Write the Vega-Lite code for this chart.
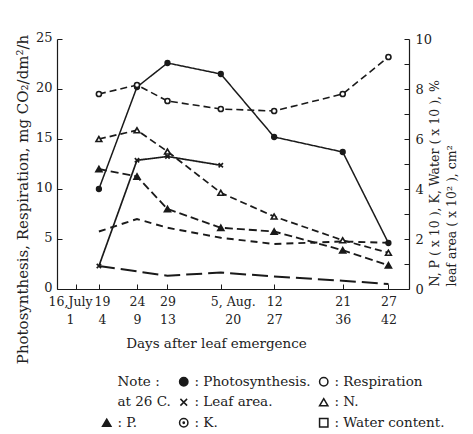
{
  "$schema": "https://vega.github.io/schema/vega-lite/v6.json",
  "width": 352,
  "height": 250,
  "autosize": {"type": "none"},
  "padding": {"left": 57, "top": 39, "right": 64, "bottom": 145},
  "background": "white",
  "config": {
    "font": "DejaVu Serif",
    "view": {"stroke": null},
    "axis": {
      "grid": false,
      "domainColor": "#1a1a1a",
      "domainWidth": 1.2,
      "tickColor": "#1a1a1a",
      "tickWidth": 1,
      "tickSize": -5,
      "labelColor": "#222",
      "titleColor": "#222",
      "labelFont": "DejaVu Serif",
      "titleFont": "DejaVu Serif",
      "titleFontWeight": "normal",
      "labelFontSize": 13
    },
    "legend": {
      "orient": "none",
      "legendX": 43,
      "legendY": 336,
      "columns": 3,
      "gridAlign": "each",
      "columnPadding": 5,
      "rowPadding": 5.5,
      "symbolSize": 70,
      "labelFont": "DejaVu Serif",
      "labelFontSize": 13.5,
      "labelColor": "#222",
      "labelOffset": 4
    }
  },
  "datasets": {
    "curves": [
      {"series": "Photosynthesis", "day": 4, "value": 10.0},
      {"series": "Photosynthesis", "day": 9, "value": 20.2},
      {"series": "Photosynthesis", "day": 13, "value": 22.6},
      {"series": "Photosynthesis", "day": 20, "value": 21.5},
      {"series": "Photosynthesis", "day": 27, "value": 15.2},
      {"series": "Photosynthesis", "day": 36, "value": 13.7},
      {"series": "Photosynthesis", "day": 42, "value": 4.6},
      {"series": "Respiration", "day": 4, "value": 19.5},
      {"series": "Respiration", "day": 9, "value": 20.4},
      {"series": "Respiration", "day": 13, "value": 18.8},
      {"series": "Respiration", "day": 20, "value": 18.0},
      {"series": "Respiration", "day": 27, "value": 17.8},
      {"series": "Respiration", "day": 36, "value": 19.5},
      {"series": "Respiration", "day": 42, "value": 23.2},
      {"series": "N", "day": 4, "value": 6.0},
      {"series": "N", "day": 9, "value": 6.35},
      {"series": "N", "day": 13, "value": 5.5},
      {"series": "N", "day": 20, "value": 3.85},
      {"series": "N", "day": 27, "value": 2.9},
      {"series": "N", "day": 36, "value": 1.95},
      {"series": "N", "day": 42, "value": 1.45},
      {"series": "P", "day": 4, "value": 4.8},
      {"series": "P", "day": 9, "value": 4.5},
      {"series": "P", "day": 13, "value": 3.2},
      {"series": "P", "day": 20, "value": 2.45},
      {"series": "P", "day": 27, "value": 2.3},
      {"series": "P", "day": 36, "value": 1.55},
      {"series": "P", "day": 42, "value": 0.95},
      {"series": "Leaf area", "day": 4, "value": 0.92},
      {"series": "Leaf area", "day": 9, "value": 5.15},
      {"series": "Leaf area", "day": 13, "value": 5.3},
      {"series": "Leaf area", "day": 20, "value": 4.95},
      {"series": "K", "day": 4, "value": 2.3},
      {"series": "K", "day": 9, "value": 2.8},
      {"series": "K", "day": 13, "value": 2.45},
      {"series": "K", "day": 20, "value": 2.05},
      {"series": "K", "day": 27, "value": 1.8},
      {"series": "K", "day": 36, "value": 1.9},
      {"series": "K", "day": 42, "value": 1.85},
      {"series": "Water content", "day": 4, "value": 0.92},
      {"series": "Water content", "day": 13, "value": 0.53},
      {"series": "Water content", "day": 20, "value": 0.66},
      {"series": "Water content", "day": 27, "value": 0.5},
      {"series": "Water content", "day": 36, "value": 0.33},
      {"series": "Water content", "day": 42, "value": 0.2}
    ]
  },
  "data": {"name": "curves"},
  "encoding": {
    "x": {
      "field": "day",
      "type": "quantitative",
      "scale": {"domain": [-1.5, 44.7], "nice": false, "zero": false},
      "axis": {
        "values": [1, 4, 9, 13, 20, 27, 36, 42],
        "labelExpr": "[datum.value == 1 ? '16,July' : datum.value == 4 ? '19' : datum.value == 9 ? '24' : datum.value == 13 ? '29' : datum.value == 20 ? '5, Aug.' : datum.value == 27 ? '12' : datum.value == 36 ? '21' : '27', '\u00a0\u00a0' + datum.label]",
        "labelOffset": {"condition": [{"test": "datum.value == 20", "value": 12}, {"test": "datum.value == 1", "value": -6}, {"test": "datum.value == 4", "value": 3}], "value": 0},
        "labelFontSize": 12.5,
        "labelPadding": 11.5,
        "labelLineHeight": 18,
        "labelFlush": false,
        "labelOverlap": false,
        "title": "Days after leaf emergence",
        "titleFontSize": 13.5,
        "titleX": 159,
        "titleY": 54,
        "titleAlign": "center",
        "titleBaseline": "middle"
      }
    }
  },
  "layer": [
    {
      "transform": [{"filter": {"field": "series", "oneOf": ["Photosynthesis", "Respiration"]}}],
      "encoding": {
        "y": {
          "field": "value",
          "type": "quantitative",
          "scale": {"domain": [0, 25], "nice": false},
          "axis": {
            "orient": "left",
            "values": [0, 5, 10, 15, 20, 25],
            "labelPadding": 10,
            "labelOffset": -2,
            "title": "Photosynthesis, Respiration, mg CO₂/dm²/h",
            "titleFontSize": 15,
            "titleAngle": -90,
            "titleX": -35,
            "titleY": 160,
            "titleAlign": "center",
            "titleBaseline": "middle"
          }
        }
      },
      "layer": [
        {
          "mark": {"type": "line", "color": "#1a1a1a"},
          "encoding": {
            "strokeDash": {
              "field": "series", "type": "nominal", "legend": null,
              "scale": {
                "domain": ["Photosynthesis", "Respiration", "Leaf area", "N", "P", "K", "Water content"],
                "range": [[1, 0], [7, 4], [1, 0], [7, 4], [8, 4], [7, 5], [16, 6]]
              }
            },
            "strokeWidth": {
              "field": "series", "type": "nominal", "legend": null,
              "scale": {
                "domain": ["Photosynthesis", "Respiration", "Leaf area", "N", "P", "K", "Water content"],
                "range": [1.5, 2, 1.3, 2, 2, 2, 2]
              }
            }
          }
        },
        {
          "mark": {"type": "point", "filled": true, "stroke": "#1a1a1a", "strokeWidth": 1.6, "opacity": 1},
          "encoding": {
            "shape": {
              "field": "series", "type": "nominal",
              "scale": {
                "domain": ["Note", "at 26 C.", "P", "Photosynthesis", "Leaf area", "K", "Respiration", "N", "Water content"],
                "range": ["M0,0L0,0", "M0,0L0,0", "triangle-up", "circle", "M-0.8,-0.8L0.8,0.8M0.8,-0.8L-0.8,0.8", "M1,0A1,1 0 1,1 -1,0A1,1 0 1,1 1,0ZM0.15,0A0.15,0.15 0 1,1 -0.15,0A0.15,0.15 0 1,1 0.15,0Z", "circle", "triangle-up", "square"]
              },
              "legend": {
                "title": null,
                "labelExpr": "datum.label == 'Note' ? 'Note :' : datum.label == 'at 26 C.' ? 'at 26 C.' : datum.label == 'Photosynthesis' ? ': Photosynthesis.' : datum.label == 'Respiration' ? ': Respiration' : datum.label == 'Leaf area' ? ': Leaf area.' : datum.label == 'N' ? ': N.' : datum.label == 'P' ? ': P.' : datum.label == 'K' ? ': K.' : ': Water content.'",
                "encode": {"symbols": {"update": {"stroke": {"value": "#1a1a1a"}, "strokeWidth": {"value": 1.5}, "size": {"signal": "datum.value === 'Photosynthesis' ? 125 : 70"}}}}
              }
            },
            "fill": {
              "field": "series", "type": "nominal",
              "scale": {
                "domain": ["Note", "at 26 C.", "P", "Photosynthesis", "Leaf area", "K", "Respiration", "N", "Water content"],
                "range": ["transparent", "transparent", "#1a1a1a", "#1a1a1a", "white", "white", "white", "white", "white"]
              },
              "legend": {
                "title": null,
                "labelExpr": "datum.label == 'Note' ? 'Note :' : datum.label == 'at 26 C.' ? 'at 26 C.' : datum.label == 'Photosynthesis' ? ': Photosynthesis.' : datum.label == 'Respiration' ? ': Respiration' : datum.label == 'Leaf area' ? ': Leaf area.' : datum.label == 'N' ? ': N.' : datum.label == 'P' ? ': P.' : datum.label == 'K' ? ': K.' : ': Water content.'",
                "encode": {"symbols": {"update": {"stroke": {"value": "#1a1a1a"}, "strokeWidth": {"value": 1.5}, "size": {"signal": "datum.value === 'Photosynthesis' ? 125 : 70"}}}}
              }
            },
            "size": {
              "field": "series", "type": "nominal", "legend": null,
              "scale": {
                "domain": ["Photosynthesis", "Respiration", "Leaf area", "N", "P", "K", "Water content"],
                "range": [22, 45, 45, 50, 55, 50, 50]
              }
            }
          }
        }
      ]
    },
    {
      "transform": [{"filter": {"field": "series", "oneOf": ["N", "P", "Leaf area", "K", "Water content"]}}],
      "encoding": {
        "y": {
          "field": "value",
          "type": "quantitative",
          "scale": {"domain": [0, 10], "nice": false},
          "axis": {
            "orient": "right",
            "values": [0, 1, 2, 3, 4, 5, 6, 7, 8, 9, 10],
            "labelExpr": "datum.value % 2 == 0 ? datum.label : ''",
            "labelPadding": 11,
            "title": ["N, P ( x 10 ), K, Water ( x 10 ), %", "leaf area ( x 10² ), cm²"],
            "titleFontSize": 12.5,
            "titleLineHeight": 17,
            "titleAngle": -90,
            "titleX": 19,
            "titleY": 247,
            "titleAlign": "left",
            "titleBaseline": "top"
          }
        }
      },
      "layer": [
        {
          "mark": {"type": "line", "color": "#1a1a1a"},
          "encoding": {
            "strokeDash": {
              "field": "series", "type": "nominal", "legend": null,
              "scale": {
                "domain": ["Photosynthesis", "Respiration", "Leaf area", "N", "P", "K", "Water content"],
                "range": [[1, 0], [7, 4], [1, 0], [7, 4], [8, 4], [7, 5], [16, 6]]
              }
            },
            "strokeWidth": {
              "field": "series", "type": "nominal", "legend": null,
              "scale": {
                "domain": ["Photosynthesis", "Respiration", "Leaf area", "N", "P", "K", "Water content"],
                "range": [1.5, 2, 1.3, 2, 2, 2, 2]
              }
            }
          }
        },
        {
          "transform": [{"filter": {"field": "series", "oneOf": ["N", "P", "Leaf area"]}}],
          "mark": {"type": "point", "filled": true, "stroke": "#1a1a1a", "strokeWidth": 1.6, "opacity": 1},
          "encoding": {
            "shape": {
              "field": "series", "type": "nominal",
              "scale": {
                "domain": ["Note", "at 26 C.", "P", "Photosynthesis", "Leaf area", "K", "Respiration", "N", "Water content"],
                "range": ["M0,0L0,0", "M0,0L0,0", "triangle-up", "circle", "M-0.8,-0.8L0.8,0.8M0.8,-0.8L-0.8,0.8", "M1,0A1,1 0 1,1 -1,0A1,1 0 1,1 1,0ZM0.15,0A0.15,0.15 0 1,1 -0.15,0A0.15,0.15 0 1,1 0.15,0Z", "circle", "triangle-up", "square"]
              },
              "legend": {
                "title": null,
                "labelExpr": "datum.label == 'Note' ? 'Note :' : datum.label == 'at 26 C.' ? 'at 26 C.' : datum.label == 'Photosynthesis' ? ': Photosynthesis.' : datum.label == 'Respiration' ? ': Respiration' : datum.label == 'Leaf area' ? ': Leaf area.' : datum.label == 'N' ? ': N.' : datum.label == 'P' ? ': P.' : datum.label == 'K' ? ': K.' : ': Water content.'",
                "encode": {"symbols": {"update": {"stroke": {"value": "#1a1a1a"}, "strokeWidth": {"value": 1.5}, "size": {"signal": "datum.value === 'Photosynthesis' ? 125 : 70"}}}}
              }
            },
            "fill": {
              "field": "series", "type": "nominal",
              "scale": {
                "domain": ["Note", "at 26 C.", "P", "Photosynthesis", "Leaf area", "K", "Respiration", "N", "Water content"],
                "range": ["transparent", "transparent", "#1a1a1a", "#1a1a1a", "white", "white", "white", "white", "white"]
              },
              "legend": {
                "title": null,
                "labelExpr": "datum.label == 'Note' ? 'Note :' : datum.label == 'at 26 C.' ? 'at 26 C.' : datum.label == 'Photosynthesis' ? ': Photosynthesis.' : datum.label == 'Respiration' ? ': Respiration' : datum.label == 'Leaf area' ? ': Leaf area.' : datum.label == 'N' ? ': N.' : datum.label == 'P' ? ': P.' : datum.label == 'K' ? ': K.' : ': Water content.'",
                "encode": {"symbols": {"update": {"stroke": {"value": "#1a1a1a"}, "strokeWidth": {"value": 1.5}, "size": {"signal": "datum.value === 'Photosynthesis' ? 125 : 70"}}}}
              }
            },
            "size": {
              "field": "series", "type": "nominal", "legend": null,
              "scale": {
                "domain": ["Photosynthesis", "Respiration", "Leaf area", "N", "P", "K", "Water content"],
                "range": [22, 45, 45, 50, 55, 50, 50]
              }
            }
          }
        }
      ]
    }
  ],
  "resolve": {"scale": {"y": "independent"}}
}
